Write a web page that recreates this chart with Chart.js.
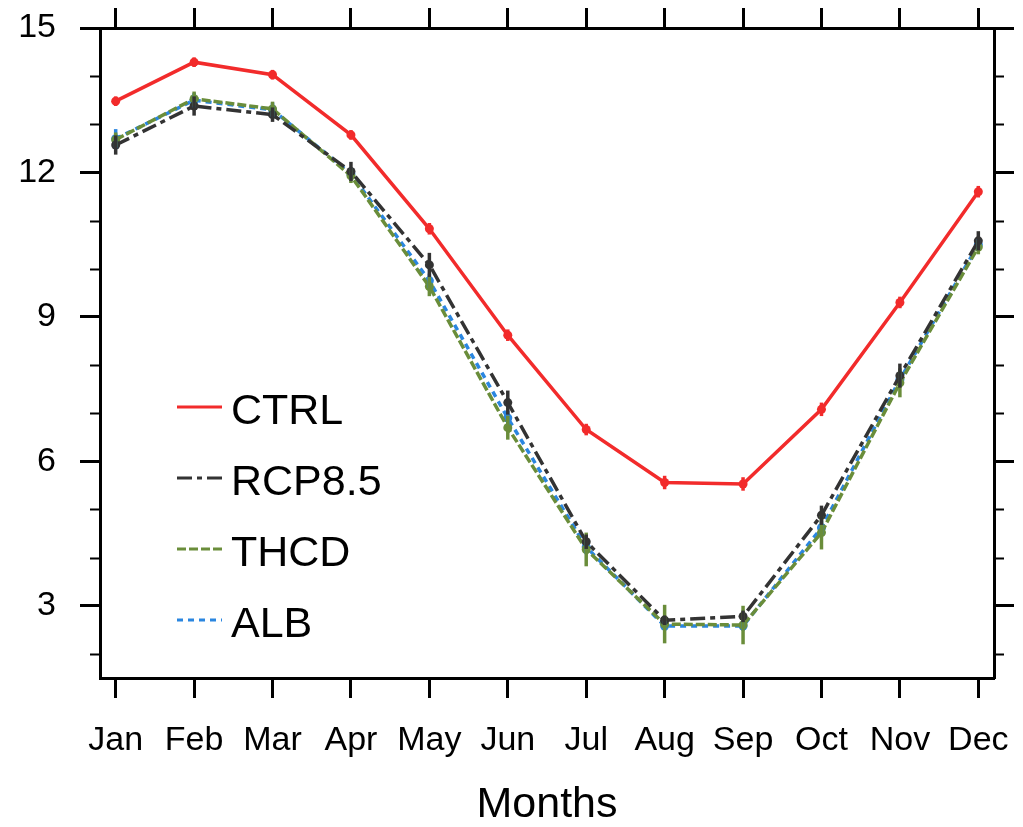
<!DOCTYPE html>
<html>
<head>
<meta charset="utf-8">
<script src="https://cdn.jsdelivr.net/npm/chart.js@4"></script>
<style>
  html, body { margin: 0; padding: 0; background: #fff; }
  #wrap { width: 1023px; height: 827px; }
</style>
</head>
<body>
<div id="wrap"><canvas id="chart" width="1023" height="827"></canvas></div>
<script>
var months = ['Jan','Feb','Mar','Apr','May','Jun','Jul','Aug','Sep','Oct','Nov','Dec'];

var ctrl     = [13.48, 14.29, 14.03, 12.78, 10.83, 8.62, 6.66, 5.56, 5.53, 7.08, 9.30, 11.60];
var ctrlErr  = [0.1, 0.1, 0.1, 0.1, 0.12, 0.12, 0.12, 0.14, 0.14, 0.14, 0.12, 0.12];
var rcp      = [12.57, 13.38, 13.20, 12.02, 10.08, 7.22, 4.33, 2.70, 2.78, 4.88, 7.78, 10.58];
var rcpErr   = [0.2, 0.2, 0.15, 0.2, 0.25, 0.25, 0.15, 0.1, 0.12, 0.2, 0.25, 0.2];
var thcd     = [12.68, 13.53, 13.32, 11.93, 9.63, 6.70, 4.17, 2.62, 2.60, 4.52, 7.63, 10.45];
var thcdErr  = [0.15, 0.15, 0.15, 0.15, 0.2, 0.25, 0.35, 0.4, 0.4, 0.35, 0.3, 0.15];
var alb      = [12.70, 13.50, 13.30, 11.97, 9.75, 6.90, 4.22, 2.58, 2.58, 4.62, 7.70, 10.50];
var albErr   = [0.2, 0.15, 0.15, 0.12, 0.15, 0.15, 0.15, 0.1, 0.1, 0.15, 0.15, 0.12];

var yMajor = [3, 6, 9, 12, 15];
var yMinor = [2, 4, 5, 7, 8, 10, 11, 13, 14];

var fuente = "'Liberation Sans', Arial, sans-serif";

function serie(nombre, valores, err, color, dash, orden) {
    return {
        label: nombre,
        data: valores.map(function (v, i) { return {x: i, y: v}; }),
        err: err,
        borderColor: color,
        backgroundColor: color,
        borderWidth: 3.5,
        borderDash: dash,
        pointRadius: 4.5,
        pointBorderWidth: 0,
        pointBackgroundColor: color,
        order: orden
    };
}

// error bars drawn through the scales
var barrasError = {
    id: 'barrasError',
    afterDatasetsDraw: function (chart) {
        var ctx = chart.ctx, xs = chart.scales.x, ys = chart.scales.y;
        ctx.save();
        chart.data.datasets.slice().reverse().forEach(function (ds) {
            ctx.strokeStyle = ds.borderColor;
            ctx.lineWidth = 3.5;
            ds.data.forEach(function (p, i) {
                var px = xs.getPixelForValue(p.x);
                ctx.beginPath();
                ctx.moveTo(px, ys.getPixelForValue(p.y - ds.err[i]));
                ctx.lineTo(px, ys.getPixelForValue(p.y + ds.err[i]));
                ctx.stroke();
            });
        });
        ctx.restore();
    }
};

// minor ticks on left and right
var marcasMenores = {
    id: 'marcasMenores',
    afterDraw: function (chart) {
        var ctx = chart.ctx, ys = chart.scales.y, a = chart.chartArea;
        ctx.save();
        ctx.strokeStyle = '#000';
        ctx.lineWidth = 2;
        yMinor.forEach(function (v) {
            var py = Math.round(ys.getPixelForValue(v)) + 0.5;
            ctx.beginPath();
            ctx.moveTo(a.left - 10, py); ctx.lineTo(a.left, py);
            ctx.moveTo(a.right, py); ctx.lineTo(a.right + 10, py);
            ctx.stroke();
        });
        ctx.restore();
    }
};

// legend inside the plot
var leyenda = {
    id: 'leyenda',
    afterDraw: function (chart) {
        var ctx = chart.ctx;
        ctx.save();
        ctx.font = '43px ' + fuente;
        ctx.textBaseline = 'middle';
        chart.data.datasets.forEach(function (ds, i) {
            var y = 407 + i * 71;
            ctx.strokeStyle = ds.borderColor;
            ctx.lineWidth = 3;
            ctx.setLineDash(ds.borderDash || []);
            ctx.beginPath();
            ctx.moveTo(177, y); ctx.lineTo(222, y);
            ctx.stroke();
            ctx.setLineDash([]);
            ctx.fillStyle = '#000';
            ctx.fillText(ds.label, 231, y + 5);
        });
        ctx.restore();
    }
};

function sinRelleno(s) {
    s.paddingTop = 0; s.paddingBottom = 0; s.paddingLeft = 0; s.paddingRight = 0;
}

var ejeX = function (posicion, conEtiquetas) {
    return {
        type: 'linear',
        position: posicion,
        min: -0.2,
        max: 11.2,
        afterBuildTicks: function (s) {
            s.ticks = months.map(function (m, i) { return {value: i}; });
        },
        afterFit: function (s) { s.height = posicion === 'bottom' ? 149 : 28; sinRelleno(s); },
        grid: { drawOnChartArea: false, tickLength: 20, tickWidth: 3, tickColor: '#000' },
        border: { display: true, color: '#000', width: 3 },
        ticks: {
            display: conEtiquetas,
            padding: 22,
            color: '#000',
            maxRotation: 0,
            autoSkip: false,
            font: { family: fuente, size: 34 },
            callback: function (v) { return months[v]; }
        },
        title: {
            display: conEtiquetas,
            text: 'Months',
            color: '#000',
            font: { family: fuente, size: 43, lineHeight: 1 },
            padding: { top: 18, bottom: 0 }
        }
    };
};

var ejeY = function (posicion, conEtiquetas) {
    return {
        type: 'linear',
        position: posicion,
        min: 1.5,
        max: 15,
        afterBuildTicks: function (s) {
            s.ticks = yMajor.map(function (v) { return {value: v}; });
        },
        afterFit: function (s) { s.width = posicion === 'left' ? 100 : 29; sinRelleno(s); },
        grid: { drawOnChartArea: false, tickLength: 20, tickWidth: 3, tickColor: '#000' },
        border: { display: true, color: '#000', width: 3 },
        ticks: {
            display: conEtiquetas,
            padding: 24,
            color: '#000',
            font: { family: fuente, size: 34 }
        }
    };
};

var canvas = document.getElementById('chart').getContext('2d');
window.bar = new Chart(canvas, {
    type: 'line',
    data: {
        datasets: [
            serie('CTRL', ctrl, ctrlErr, '#f22b2b', [], 1),
            serie('RCP8.5', rcp, rcpErr, '#333333', [15, 5, 5, 5], 2),
            serie('THCD', thcd, thcdErr, '#6a8d3a', [9, 3], 3),
            serie('ALB', alb, albErr, '#2a86e0', [6, 5], 4)
        ]
    },
    options: {
        responsive: false,
        animation: false,
        layout: { padding: 0 },
        plugins: { legend: { display: false }, tooltip: { enabled: false } },
        scales: {
            x: ejeX('bottom', true),
            x2: ejeX('top', false),
            y: ejeY('left', true),
            y2: ejeY('right', false)
        }
    },
    plugins: [barrasError, marcasMenores, leyenda]
});
</script>
</body>
</html>
